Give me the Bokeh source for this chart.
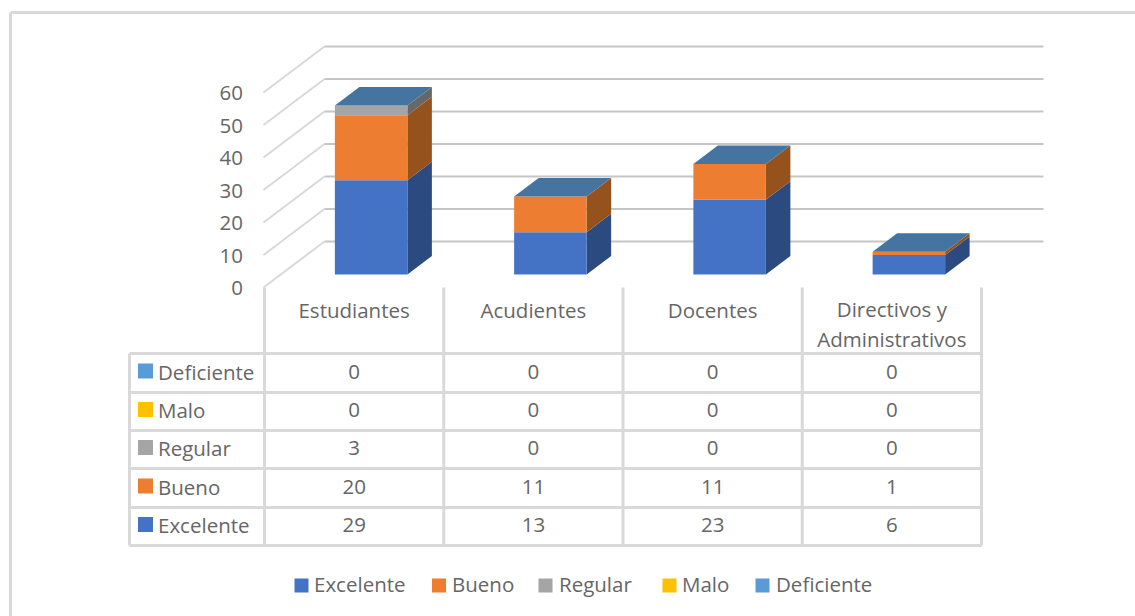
from bokeh.plotting import figure
from bokeh.embed import file_html
from bokeh.resources import INLINE
from bokeh.core.properties import value

categories = ["Estudiantes", "Acudientes", "Docentes", "Directivos y\nAdministrativos"]
excelente = [29, 13, 23, 6]
bueno = [20, 11, 11, 1]
regular = [3, 0, 0, 0]
malo = [0, 0, 0, 0]
deficiente = [0, 0, 0, 0]
series_names = ["Excelente", "Bueno", "Regular", "Malo", "Deficiente"]
y_ticks = [0, 10, 20, 30, 40, 50, 60]

series_values = [excelente, bueno, regular, malo, deficiente]
front_colors = ["#4472C4", "#ED7D31", "#A5A5A5", "#FFC000", "#5B9BD5"]
side_colors = ["#2A4A80", "#96521C", "#676767", "#A67C00", "#3B6A94"]
top_color = "#44749F"
grid_color = "#C6C6C6"
table_color = "#D9D9D9"
text_color = "#666666"
FONT = value("Open Sans")
SIZE = "20.5px"

# Page geometry (reference pixels)
W, H = 1135, 616
COL0, COLW = 264.0, 179.25
Y0, YS = 287.0, 3.25

def X(px):
    return (px - COL0) / COLW

def Y(py):
    return (Y0 - py) / YS

p = figure(width=W, height=H, output_backend="svg", toolbar_location=None,
           x_range=(X(0), X(W)), y_range=(Y(H), Y(0)),
           x_axis_type=None, y_axis_type=None, min_border=0,
           background_fill_color="white", border_fill_color="white",
           outline_line_color=None)
p.grid.visible = False

# Chart area border
p.multi_line([[X(10), X(10)], [X(10), X(W)]], [[Y(H), Y(12)], [Y(12), Y(12)]],
             line_color=table_color, line_width=3)

# 3D walls: gridlines run from the front edge back to the rear wall
wall_dx, wall_dy = X(324) - X(263), 46 / YS
for t in y_ticks:
    p.line([X(263), X(263) + wall_dx], [t, t + wall_dy], line_color=table_color, line_width=2)
    p.line([X(263) + wall_dx, X(1043)], [t + wall_dy, t + wall_dy], line_color=grid_color, line_width=2)

# Value labels
p.text([X(242.5)] * len(y_ticks), y_ticks, text=[str(t) for t in y_ticks], text_font=FONT,
       text_font_size=SIZE, text_color=text_color, text_align="right", text_baseline="middle",
       y_offset=0.5)

# Stacked 3D columns
bar_w = 72.5 / COLW
depth_dx, depth_dy = 24.5 / COLW, 18.5 / YS
base_dx, base_dy = 17.0 / COLW, 13 / YS
for i in range(len(categories)):
    x0 = i + 0.5 - bar_w / 2 + base_dx
    x1 = x0 + bar_w
    bottom = 0
    for s, vals in enumerate(series_values):
        v = vals[i]
        if v == 0:
            continue
        top = bottom + v
        p.patch([x1, x1 + depth_dx, x1 + depth_dx, x1],
                [bottom + base_dy, bottom + base_dy + depth_dy, top + base_dy + depth_dy, top + base_dy],
                fill_color=side_colors[s], line_color=None)
        p.quad(left=x0, right=x1, bottom=bottom + base_dy, top=top + base_dy,
               fill_color=front_colors[s], line_color=None)
        bottom = top
    p.patch([x0, x1, x1 + depth_dx, x0 + depth_dx],
            [bottom + base_dy, bottom + base_dy, bottom + base_dy + depth_dy, bottom + base_dy + depth_dy],
            fill_color=top_color, line_color=None)

# Data table
row_lines = [353, 392, 430, 468, 507, 545]
n = len(categories)
for i in range(n + 1):
    p.line([i, i], [Y(287), Y(545)], line_color=table_color, line_width=3)
p.line([X(129), X(129)], [Y(353), Y(545)], line_color=table_color, line_width=3)
for r in row_lines:
    p.line([X(129), n], [Y(r), Y(r)], line_color=table_color, line_width=3)

header_px = [309.5, 309.5, 309.5, 323.5]
p.text([i + 0.5 for i in range(n)], [Y(v) for v in header_px], text=categories, text_font=FONT,
       text_font_size=SIZE, text_color=text_color, text_align="center", text_baseline="middle",
       text_line_height=1.04)

row_order = list(range(len(series_names)))[::-1]
for k, s in enumerate(row_order):
    yc = Y((row_lines[k] + row_lines[k + 1]) / 2 - 1.5)
    p.scatter([X(145)], [yc + 0.5 / YS], marker="square", size=15, fill_color=front_colors[s], line_color=None)
    p.text([X(157.5)], [yc], text=[series_names[s]], text_font=FONT, text_font_size=SIZE,
           text_color=text_color, text_align="left", text_baseline="middle")
    p.text([i + 0.5 for i in range(n)], [yc] * n, text=[str(v) for v in series_values[s]],
           text_font=FONT, text_font_size=SIZE, text_color=text_color,
           text_align="center", text_baseline="middle")

# Legend
legend_key_px = [301, 438.5, 545, 669, 762]
legend_text_px = [313.5, 451.5, 558.5, 681.5, 775.5]
for s, name in enumerate(series_names):
    p.scatter([X(legend_key_px[s])], [Y(585)], marker="square", size=14,
              fill_color=front_colors[s], line_color=None)
    p.text([X(legend_text_px[s])], [Y(583)], text=[name], text_font=FONT, text_font_size=SIZE,
           text_color=text_color, text_align="left", text_baseline="middle")

open("out.html", "w").write(file_html(p, INLINE))
